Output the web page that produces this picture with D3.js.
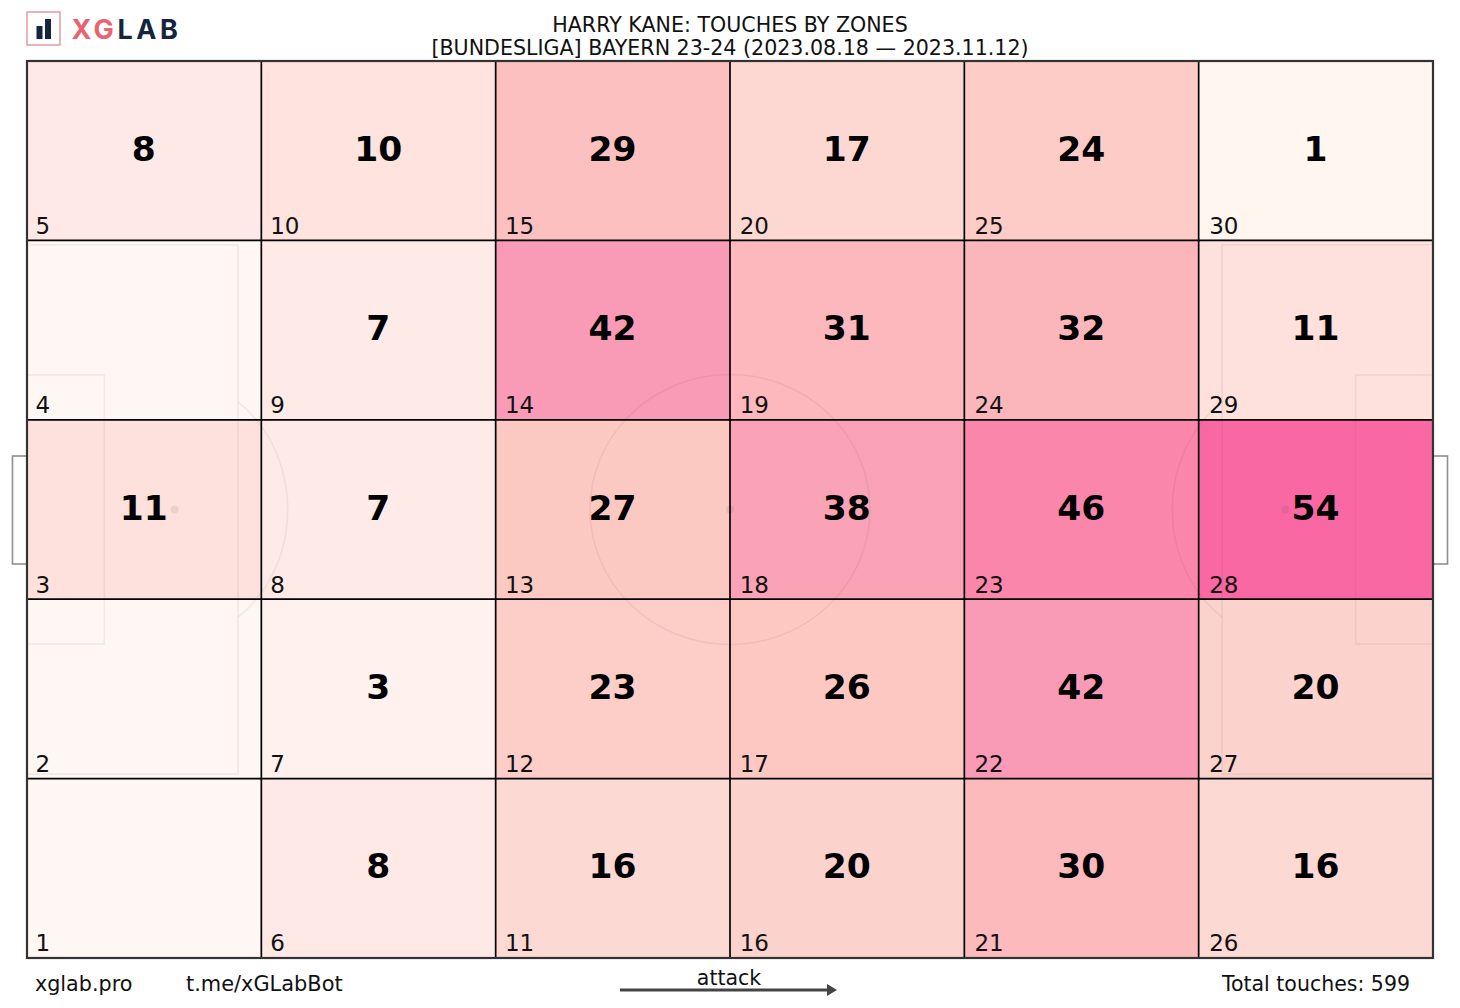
<!DOCTYPE html>
<html><head><meta charset="utf-8">
<script src="https://cdn.jsdelivr.net/npm/d3@7"></script>
<style>html,body{margin:0;padding:0;background:#fff}svg{display:block}text{font-family:"DejaVu Sans",sans-serif}</style>
</head><body><div id="c"></div>
<script>
const touches = [null,null,11,null,8, 8,3,7,7,10, 16,23,27,42,29, 20,26,38,31,17, 30,42,46,32,24, 16,20,54,11,1];
const zones = d3.range(1,31);
const columns = d3.range(6), rows = d3.range(5);
const colorStops = [0,1,3,7,8,10,11,16,17,20,23,24,26,27,29,30,31,32,38,42,46,54];
const colorValues = ["#fff7f3","#fff6f0","#fff1ed","#feebe8","#fee9e6","#fee3df","#fee1dc","#fdd9d4","#fdd8d3","#fbd3cc","#fdcdc8","#fdccc7","#fdc8c1","#fcc8c2","#fcc0c0","#fcbabd","#fcb8bc","#fbb6bb","#faa3b7","#f99ab7","#fa86ab","#f968a2"];
const titleLines = ["HARRY KANE: TOUCHES BY ZONES","[BUNDESLIGA] BAYERN 23-24 (2023.08.18 — 2023.11.12)"];

const W=1460,H=1008;
const x=d3.scaleLinear().domain([0,6]).range([27,1433]);
const y=d3.scaleLinear().domain([0,5]).range([958,61]);
const px=d3.scaleLinear().domain([0,100]).range([27,1433]);
const py=d3.scaleLinear().domain([0,100]).range([958,61]);
const color=d3.scaleLinear().domain(colorStops).range(colorValues);
const svg=d3.select("#c").append("svg").attr("width",W).attr("height",H);

// logo
const logo=svg.append("g");
logo.append("rect").attr("x",27).attr("y",12).attr("width",33).attr("height",33).attr("fill","#fff").attr("stroke","#e08a96").attr("stroke-width",1.3);
logo.selectAll(".lb").data([[36.5,26,6,13],[45,19,6,20]]).join("rect").attr("x",d=>d[0]).attr("y",d=>d[1]).attr("width",d=>d[2]).attr("height",d=>d[3]).attr("fill","#14263d");
const lt=logo.append("text").attr("x",71.5).attr("y",38.5).attr("font-size",27).attr("font-weight",700).attr("letter-spacing",3.6).style("font-family","Inter,sans-serif");
lt.append("tspan").attr("fill","#ea6470").text("XG");
lt.append("tspan").attr("fill","#14263d").text("LAB");

// title
svg.selectAll(".title").data(titleLines).join("text").attr("class","title").attr("x",730).attr("y",(d,i)=>32+i*23).attr("text-anchor","middle").attr("font-size",20.6).attr("fill","#111").text(d=>d);

// cells
const cells=zones.map((z,i)=>({z,c:Math.floor(i/5),r:i%5,v:touches[i]}));
svg.selectAll(".cell").data(cells).join("rect").attr("x",d=>x(d.c)).attr("y",d=>y(d.r+1)).attr("width",d=>x(d.c+1)-x(d.c)).attr("height",d=>y(d.r)-y(d.r+1)).attr("fill",d=>color(d.v||0));

// pitch
const pitch=svg.append("g").attr("fill","none").attr("stroke","rgba(90,70,70,0.08)").attr("stroke-width",1.6);
[[0,15,20.5,79.5],[0,5.5,35,65],[85,100,20.5,79.5],[94.5,100,35,65]].forEach(b=>{
  pitch.append("rect").attr("x",px(b[0])).attr("y",py(b[3])).attr("width",px(b[1])-px(b[0])).attr("height",py(b[2])-py(b[3]));
});
pitch.append("ellipse").attr("cx",px(50)).attr("cy",py(50)).attr("rx",140).attr("ry",135);
const arc=(cx,dir)=>{const rx=113,ry=130,dx=63;const dy=ry*Math.sqrt(1-(dx/rx)**2);
  return `M${cx+dir*dx},${py(50)-dy}A${rx},${ry} 0 0 ${dir>0?1:0} ${cx+dir*dx},${py(50)+dy}`;};
pitch.append("path").attr("d",arc(px(10.5),1));
pitch.append("path").attr("d",arc(px(89.5),-1));
svg.selectAll(".spot").data([10.5,50,89.5]).join("circle").attr("class","spot").attr("cx",d=>px(d)).attr("cy",py(50)).attr("r",4).attr("fill","rgba(90,70,70,0.11)");

// goals
svg.selectAll(".goal").data([[12.5,27],[1433,1447.5]]).join("rect").attr("class","goal").attr("x",d=>d[0]).attr("y",456).attr("width",d=>d[1]-d[0]).attr("height",108).attr("fill","none").attr("stroke","#8f8f8f").attr("stroke-width",1.6);

// grid
const grid=svg.append("g").attr("stroke","#000").attr("stroke-width",1.7);
columns.slice(1).forEach(c=>grid.append("line").attr("x1",x(c)).attr("x2",x(c)).attr("y1",y(0)).attr("y2",y(5)));
rows.slice(1).forEach(r=>grid.append("line").attr("y1",y(r)).attr("y2",y(r)).attr("x1",x(0)).attr("x2",x(6)));
svg.append("rect").attr("x",x(0)).attr("y",y(5)).attr("width",x(6)-x(0)).attr("height",y(0)-y(5)).attr("fill","none").attr("stroke","#333").attr("stroke-width",2.2);

// labels
svg.selectAll(".val").data(cells.filter(d=>d.v!=null)).join("text").attr("class","val")
 .attr("x",d=>(x(d.c)+x(d.c+1))/2-0.3).attr("y",d=>y(d.r+1)+99.8).attr("text-anchor","middle")
 .attr("font-size",34.5).attr("font-weight",700).attr("fill","#000").text(d=>d.v);
svg.selectAll(".zn").data(cells).join("text").attr("class","zn")
 .attr("x",d=>x(d.c)+8.5+d.c*0.4).attr("y",d=>y(d.r)-6.7).attr("font-size",23).attr("fill","#111").text(d=>d.z);

// footer
[["xglab.pro",35,"start",20.7],["t.me/xGLabBot",186,"start",20.9],["Total touches: 599",1410,"end",20.5]].forEach(t=>{
  svg.append("text").attr("x",t[1]).attr("y",991).attr("text-anchor",t[2]).attr("font-size",t[3]).attr("fill","#111").text(t[0]);
});
svg.append("text").attr("x",729).attr("y",985).attr("text-anchor","middle").attr("font-size",20.5).attr("fill","#111").text("attack");
svg.append("line").attr("x1",620).attr("x2",830).attr("y1",990).attr("y2",990).attr("stroke","#444").attr("stroke-width",3);
svg.append("path").attr("d","M827,984L837,990L827,996Z").attr("fill","#444");
</script></body></html>
